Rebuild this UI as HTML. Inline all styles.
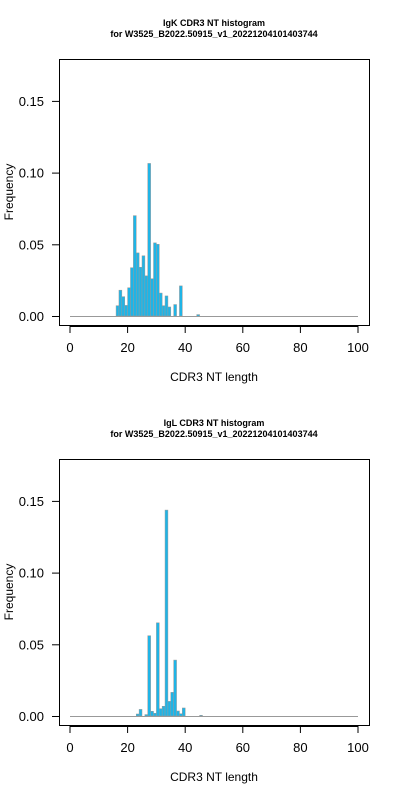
<!DOCTYPE html>
<html><head><meta charset="utf-8"><style>
body{margin:0;background:#fff}
svg{display:block;font-family:"Liberation Sans",sans-serif}
</style></head><body>
<svg id="s" width="400" height="800"></svg>
<script>
const kStart = 16;
const kValues = [0.0072,0.018,0.0135,0.0074,0.0197,0.0337,0.070,0.044,0.034,0.042,0.028,0.1064,0.026,0.051,0.050,0.016,0.0072,0.014,0.0063,0,0.008,0,0.021,0,0,0,0,0,0.001];
const lStart = 23;
const lValues = [0.0014,0.0046,0,0.001,0.056,0.0033,0.0019,0.065,0.0051,0.0068,0.1436,0.0102,0.0165,0.039,0.0035,0.0016,0.0056,0,0,0,0,0,0.0005];
const xTicks = [0,20,40,60,80,100];
const yTicks = [0,0.05,0.10,0.15];
const yTickLabels = ["0.00","0.05","0.10","0.15"];
const titles = [["IgK CDR3 NT histogram","for W3525_B2022.50915_v1_20221204101403744"],["IgL CDR3 NT histogram","for W3525_B2022.50915_v1_20221204101403744"]];

const NS="http://www.w3.org/2000/svg";
const svg=document.getElementById('s');
function mk(t,a,p){const e=document.createElementNS(NS,t);for(const k in a)e.setAttribute(k,a[k]);(p||svg).appendChild(e);return e;}
function panel(off,start,vals,tt,name){
  const g=mk('g',{});
  
  
  const x=v=>70+v*2.88, y=v=>off+316-v*(71.7/0.05);
  const t1=mk('text',{x:214,y:off+26,'text-anchor':'middle','font-size':9,'font-weight':'bold'},g);t1.textContent=tt[0];
  
  const t2=mk('text',{x:214,y:off+37,'text-anchor':'middle','font-size':9,'font-weight':'bold'},g);t2.textContent=tt[1];
  
  const box=mk('rect',{x:59.5,y:off+59.5,width:310,height:266,fill:'none',stroke:'#000','stroke-width':1},g);
  
  mk('line',{x1:x(0),x2:x(100),y1:y(0)+0.5,y2:y(0)+0.5,stroke:'#999','stroke-width':1},g);
  vals.forEach((v,i)=>{if(v<=0)return;const L=start+i;
    const r=mk('rect',{x:x(L),y:y(v),width:2.88,height:y(0)-y(v),fill:'#1fb4e6',stroke:'#999','stroke-width':0.5},g);
    });
  const ax=mk('g',{},g);
  mk('line',{x1:x(0),x2:x(100),y1:off+326.5,y2:off+326.5,stroke:'#000'},ax);
  xTicks.forEach(v=>{mk('line',{x1:x(v),x2:x(v),y1:off+326,y2:off+333,stroke:'#000'},ax);
    const t=mk('text',{x:x(v),y:off+352,'text-anchor':'middle','font-size':13},ax);t.textContent=v;});
  const xt=mk('text',{x:214,y:off+381,'text-anchor':'middle','font-size':12},g);xt.textContent='CDR3 NT length';
  
  const ay=mk('g',{},g);
  mk('line',{x1:59.5,x2:59.5,y1:y(0),y2:y(0.15),stroke:'#000'},ay);
  yTicks.forEach((v,i)=>{mk('line',{x1:52,x2:59.5,y1:y(v)+0.5,y2:y(v)+0.5,stroke:'#000'},ay);
    const t=mk('text',{x:44,y:y(v)+5,'text-anchor':'end','font-size':13},ay);t.textContent=yTickLabels[i];});
  const yt=mk('text',{x:13,y:off+192,'text-anchor':'middle','font-size':12,transform:`rotate(-90 13 ${off+192})`},g);yt.textContent='Frequency';
  
}
panel(0,kStart,kValues,titles[0],'igk-histogram');
panel(400,lStart,lValues,titles[1],'igl-histogram');
</script>
</body></html>
